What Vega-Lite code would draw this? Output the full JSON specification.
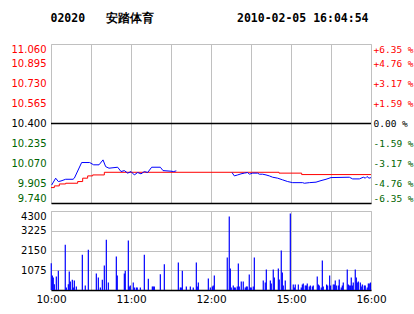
{
  "$schema": "https://vega.github.io/schema/vega-lite/v6.json",
  "background": "#ffffff",
  "padding": {"left": 10, "top": 13, "right": 0, "bottom": 0},
  "title": {
    "text": "02020\u00a0\u00a0\u00a0安踏体育\u00a0\u00a0\u00a0\u00a0\u00a0\u00a0\u00a0\u00a0\u00a0\u00a0\u00a0\u00a02010-02-05 16:04:54",
    "anchor": "start",
    "dx": 40,
    "font": "DejaVu Sans Mono",
    "fontSize": 11.5,
    "fontWeight": "bold",
    "color": "#000000",
    "offset": 19
  },
  "spacing": 6,
  "datasets": {
    "price": [
      {"t": 0.5, "p": 9.889, "s": 1}, {"t": 3.5, "p": 9.946, "s": 1}, {"t": 5.5, "p": 9.918, "s": 1},
      {"t": 7.5, "p": 9.923, "s": 1}, {"t": 11, "p": 9.937, "s": 1}, {"t": 16.5, "p": 9.937, "s": 1},
      {"t": 17.5, "p": 9.946, "s": 1}, {"t": 23, "p": 10.076, "s": 1}, {"t": 29, "p": 10.076, "s": 1},
      {"t": 32, "p": 10.057, "s": 1}, {"t": 36, "p": 10.057, "s": 1}, {"t": 39, "p": 10.098, "s": 1},
      {"t": 41, "p": 10.042, "s": 1}, {"t": 43.5, "p": 10.029, "s": 1}, {"t": 50, "p": 10.037, "s": 1},
      {"t": 52.5, "p": 10.001, "s": 1}, {"t": 55, "p": 10.009, "s": 1}, {"t": 57.5, "p": 9.988, "s": 1},
      {"t": 60, "p": 10.001, "s": 1}, {"t": 62.5, "p": 9.973, "s": 1}, {"t": 65, "p": 9.993, "s": 1},
      {"t": 67.5, "p": 9.982, "s": 1}, {"t": 70, "p": 10.001, "s": 1}, {"t": 72.5, "p": 9.993, "s": 1},
      {"t": 75.5, "p": 10.037, "s": 1}, {"t": 82, "p": 10.037, "s": 1}, {"t": 84, "p": 10.009, "s": 1},
      {"t": 90, "p": 10.004, "s": 1}, {"t": 92, "p": 10.001, "s": 1}, {"t": 94, "p": 10.007, "s": 1},
      {"t": 135.75, "p": 9.993, "s": 2}, {"t": 137.5, "p": 9.965, "s": 2}, {"t": 140, "p": 9.973, "s": 2},
      {"t": 142.5, "p": 9.982, "s": 2}, {"t": 145, "p": 9.988, "s": 2}, {"t": 147.5, "p": 9.993, "s": 2},
      {"t": 148.75, "p": 9.979, "s": 2}, {"t": 151.25, "p": 9.988, "s": 2}, {"t": 155, "p": 9.988, "s": 2},
      {"t": 156.25, "p": 9.979, "s": 2}, {"t": 158.75, "p": 9.979, "s": 2}, {"t": 161.25, "p": 9.973, "s": 2},
      {"t": 163.75, "p": 9.965, "s": 2}, {"t": 166.25, "p": 9.954, "s": 2}, {"t": 170, "p": 9.946, "s": 2},
      {"t": 173.75, "p": 9.932, "s": 2}, {"t": 177.5, "p": 9.918, "s": 2}, {"t": 181.25, "p": 9.909, "s": 2},
      {"t": 188.75, "p": 9.909, "s": 2}, {"t": 190, "p": 9.904, "s": 2}, {"t": 193.75, "p": 9.909, "s": 2},
      {"t": 198.75, "p": 9.913, "s": 2}, {"t": 202.5, "p": 9.926, "s": 2}, {"t": 206.25, "p": 9.937, "s": 2},
      {"t": 210, "p": 9.951, "s": 2}, {"t": 223.75, "p": 9.954, "s": 2}, {"t": 226.25, "p": 9.94, "s": 2},
      {"t": 231.25, "p": 9.94, "s": 2}, {"t": 234.25, "p": 9.954, "s": 2}, {"t": 235.75, "p": 9.946, "s": 2},
      {"t": 237, "p": 9.96, "s": 2}, {"t": 238.5, "p": 9.946, "s": 2}, {"t": 240, "p": 9.951, "s": 2}
    ],
    "avg": [
      {"t": 0, "a": 9.868}, {"t": 2.5, "a": 9.882}, {"t": 6.25, "a": 9.898}, {"t": 11, "a": 9.904},
      {"t": 20, "a": 9.918}, {"t": 23.75, "a": 9.946}, {"t": 27.5, "a": 9.965}, {"t": 31.25, "a": 9.973},
      {"t": 40, "a": 9.995}, {"t": 171, "a": 9.988}, {"t": 188, "a": 9.976}, {"t": 240, "a": 9.976}
    ],
    "zero": [{"pct": 0}],
    "vol": [
      {"t": 0.2, "v": 1458}, {"t": 1.0, "v": 789}, {"t": 1.7, "v": 680}, {"t": 2.5, "v": 316}, {"t": 4.0, "v": 734},
      {"t": 5.5, "v": 1044}, {"t": 10.7, "v": 2459}, {"t": 11.5, "v": 136}, {"t": 13.0, "v": 316}, {"t": 13.7, "v": 1006},
      {"t": 14.5, "v": 462}, {"t": 16.0, "v": 555}, {"t": 16.7, "v": 136}, {"t": 17.5, "v": 517}, {"t": 19.0, "v": 190},
      {"t": 23.5, "v": 1915}, {"t": 25.7, "v": 245}, {"t": 28.0, "v": 2187}, {"t": 34.0, "v": 898}, {"t": 35.5, "v": 680},
      {"t": 37.0, "v": 136}, {"t": 38.5, "v": 555}, {"t": 40.0, "v": 1333}, {"t": 41.5, "v": 2731}, {"t": 43.0, "v": 408},
      {"t": 49.0, "v": 1822}, {"t": 49.7, "v": 789}, {"t": 55.0, "v": 898}, {"t": 55.7, "v": 1044}, {"t": 58.0, "v": 2693},
      {"t": 58.7, "v": 190}, {"t": 59.5, "v": 245}, {"t": 61.7, "v": 408}, {"t": 62.5, "v": 136}, {"t": 64.0, "v": 136},
      {"t": 64.7, "v": 136}, {"t": 67.0, "v": 136}, {"t": 70.0, "v": 1915}, {"t": 73.0, "v": 609}, {"t": 76.0, "v": 190},
      {"t": 76.7, "v": 190}, {"t": 77.5, "v": 190}, {"t": 82.0, "v": 860}, {"t": 85.0, "v": 1404}, {"t": 95.5, "v": 1496},
      {"t": 97.0, "v": 136}, {"t": 97.7, "v": 136}, {"t": 98.5, "v": 1044}, {"t": 101.5, "v": 190}, {"t": 104.5, "v": 190},
      {"t": 106.7, "v": 136}, {"t": 109.0, "v": 1496}, {"t": 109.7, "v": 190}, {"t": 110.5, "v": 408}, {"t": 118.0, "v": 626},
      {"t": 119.5, "v": 136}, {"t": 121.0, "v": 190}, {"t": 121.7, "v": 245}, {"t": 122.5, "v": 789}, {"t": 132.2, "v": 1768},
      {"t": 133.7, "v": 3998}, {"t": 134.5, "v": 1170}, {"t": 135.2, "v": 136}, {"t": 136.7, "v": 245}, {"t": 137.5, "v": 136},
      {"t": 138.2, "v": 136}, {"t": 139.7, "v": 190}, {"t": 140.5, "v": 1442}, {"t": 141.2, "v": 190}, {"t": 142.7, "v": 462},
      {"t": 144.2, "v": 462}, {"t": 145.7, "v": 136}, {"t": 146.5, "v": 190}, {"t": 147.2, "v": 190}, {"t": 148.7, "v": 843},
      {"t": 149.5, "v": 136}, {"t": 150.2, "v": 136}, {"t": 151.7, "v": 190}, {"t": 152.5, "v": 1768}, {"t": 159.2, "v": 517},
      {"t": 160.7, "v": 408}, {"t": 161.5, "v": 1115}, {"t": 164.5, "v": 517}, {"t": 165.2, "v": 354}, {"t": 166.7, "v": 1115},
      {"t": 167.5, "v": 680}, {"t": 170.5, "v": 1170}, {"t": 171.2, "v": 571}, {"t": 172.7, "v": 2149}, {"t": 173.5, "v": 952},
      {"t": 174.2, "v": 245}, {"t": 175.7, "v": 517}, {"t": 179.5, "v": 4162}, {"t": 181.7, "v": 299}, {"t": 182.5, "v": 136},
      {"t": 183.2, "v": 299}, {"t": 185.5, "v": 299}, {"t": 187.7, "v": 136}, {"t": 188.5, "v": 299}, {"t": 189.2, "v": 354},
      {"t": 190.7, "v": 245}, {"t": 191.5, "v": 245}, {"t": 192.2, "v": 354}, {"t": 193.7, "v": 190}, {"t": 194.5, "v": 245},
      {"t": 196.0, "v": 190}, {"t": 196.7, "v": 245}, {"t": 199.7, "v": 734}, {"t": 200.5, "v": 299}, {"t": 201.2, "v": 245},
      {"t": 202.7, "v": 136}, {"t": 203.5, "v": 1604}, {"t": 204.2, "v": 190}, {"t": 206.7, "v": 299}, {"t": 207.5, "v": 245},
      {"t": 209.0, "v": 789}, {"t": 209.7, "v": 245}, {"t": 211.7, "v": 299}, {"t": 212.5, "v": 299}, {"t": 213.2, "v": 517},
      {"t": 214.0, "v": 245}, {"t": 215.5, "v": 245}, {"t": 216.2, "v": 571}, {"t": 217.7, "v": 136}, {"t": 218.5, "v": 245},
      {"t": 219.2, "v": 408}, {"t": 222.2, "v": 1115}, {"t": 223.0, "v": 299}, {"t": 223.7, "v": 245}, {"t": 224.5, "v": 245},
      {"t": 225.2, "v": 680}, {"t": 226.0, "v": 245}, {"t": 226.7, "v": 408}, {"t": 228.2, "v": 1115}, {"t": 229.0, "v": 680},
      {"t": 229.7, "v": 408}, {"t": 230.5, "v": 462}, {"t": 232.0, "v": 408}, {"t": 232.7, "v": 190}, {"t": 233.5, "v": 299},
      {"t": 235.0, "v": 245}, {"t": 235.7, "v": 245}, {"t": 237.2, "v": 136}, {"t": 238.0, "v": 354}, {"t": 238.7, "v": 354},
      {"t": 239.6, "v": 408}
    ]
  },
  "config": {
    "view": {"stroke": "#c0c0c0"},
    "axis": {
      "gridColor": "#c0c0c0",
      "gridOpacity": 1,
      "domain": false,
      "ticks": false,
      "tickCount": 30,
      "labelFont": "DejaVu Sans",
      "labelFontSize": 10,
      "labelColor": "#000000",
      "labelOverlap": false
    }
  },
  "vconcat": [
    {
      "width": 320,
      "height": 159,
      "layer": [
        {
          "data": {"name": "zero"},
          "mark": {"type": "rule", "color": "#000000", "strokeWidth": 1.5},
          "encoding": {
            "y": {
              "field": "pct",
              "type": "quantitative",
              "scale": {"domain": [-6.35, 6.35], "nice": false, "zero": false},
              "axis": {
                "orient": "right",
                "title": null,
                "grid": false,
                "tickCount": 30,
                "values": [-6.35, -4.76, -3.17, -1.59, 0, 1.59, 3.17, 4.76, 6.35],
                "labelExpr": "(datum.value > 0 ? '+' : (datum.value == 0 ? '\u00a0' : '-')) + format(abs(datum.value), '.2f') + '\u00a0%'",
                "labelFont": "DejaVu Sans Mono",
                "labelFontSize": 9.5,
                "labelPadding": 2,
                "labelFlush": true,
                "labelOverlap": false,
                "labelColor": {
                  "condition": [
                    {"test": "datum.value > 0.01", "value": "#ff0000"},
                    {"test": "datum.value > -0.01", "value": "#000000"}
                  ],
                  "value": "#006400"
                }
              }
            }
          }
        },
        {
          "layer": [
            {
              "data": {"name": "avg"},
              "mark": {"type": "line", "color": "#ff0000", "strokeWidth": 1, "interpolate": "step-after"},
              "encoding": {
                "x": {
                  "field": "t",
                  "type": "quantitative",
                  "scale": {"domain": [0, 240], "nice": false, "zero": false},
                  "axis": {
                    "title": null,
                    "tickCount": 30,
                    "values": [0, 30, 60, 90, 120, 150, 180, 210, 240],
                    "labels": false,
                    "domain": true,
                    "domainColor": "#000000",
                    "domainWidth": 1.5,
                    "grid": true
                  }
                },
                "y": {
                  "field": "a",
                  "type": "quantitative",
                  "scale": {"domain": [9.74, 11.06], "nice": false, "zero": false},
                  "axis": {
                    "orient": "left",
                    "title": null,
                    "tickCount": 30,
                    "values": [9.74, 9.905, 10.07, 10.235, 10.4, 10.565, 10.73, 10.895, 11.06],
                    "format": ".3f",
                    "labelPadding": 5,
                    "labelFlush": true,
                    "labelOverlap": false,
                    "labelColor": {
                      "condition": [
                        {"test": "datum.value > 10.41", "value": "#ff0000"},
                        {"test": "datum.value > 10.39", "value": "#000000"}
                      ],
                      "value": "#006400"
                    }
                  }
                }
              }
            },
            {
              "data": {"name": "price"},
              "mark": {"type": "line", "color": "#0000ff", "strokeWidth": 1},
              "encoding": {
                "x": {"field": "t", "type": "quantitative"},
                "y": {"field": "p", "type": "quantitative"},
                "detail": {"field": "s", "type": "nominal"}
              }
            }
          ]
        }
      ],
      "resolve": {"scale": {"y": "independent"}}
    },
    {
      "width": 320,
      "height": 79,
      "data": {"name": "vol"},
      "mark": {"type": "rule", "color": "#0000ff", "strokeWidth": 1.2},
      "encoding": {
        "x": {
          "field": "t",
          "type": "quantitative",
          "scale": {"domain": [0, 240], "nice": false, "zero": false},
          "axis": {
            "title": null,
            "tickCount": 30,
            "values": [0, 30, 60, 90, 120, 150, 180, 210, 240],
            "labelExpr": "datum.value == 0 ? '10:00' : datum.value == 60 ? '11:00' : datum.value == 120 ? '12:00' : datum.value == 180 ? '15:00' : datum.value == 240 ? '16:00' : ''",
            "labelFlush": false,
            "labelPadding": 4,
            "labelFontSize": 10.5,
            "domain": true,
            "domainColor": "#000000",
            "domainWidth": 1.5,
            "grid": true
          }
        },
        "y": {
          "field": "v",
          "type": "quantitative",
          "scale": {"domain": [0, 4300], "nice": false},
          "axis": {
            "title": null,
            "tickCount": 30,
            "values": [0, 1075, 2150, 3225, 4300],
            "format": "d",
            "labelExpr": "datum.value == 0 ? '' : datum.label",
            "labelPadding": 5,
            "labelFlush": true
          }
        },
        "y2": {"datum": 0}
      }
    }
  ]
}
